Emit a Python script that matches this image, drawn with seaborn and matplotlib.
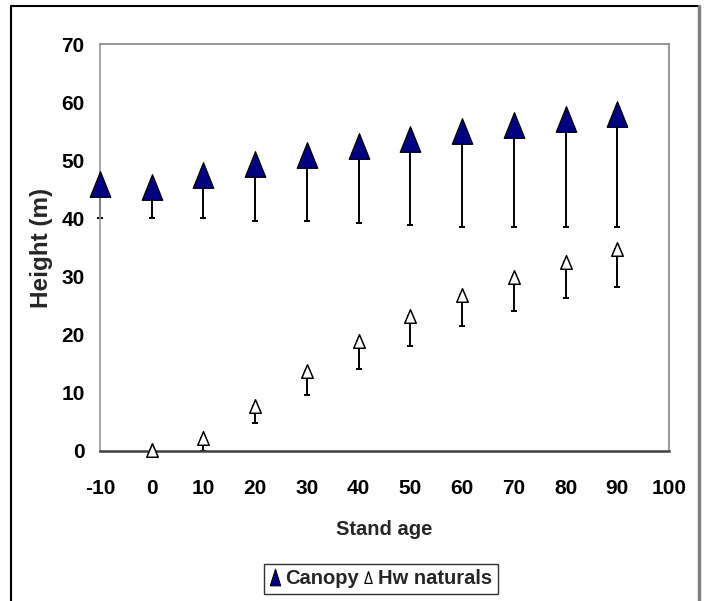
import numpy as np
import pandas as pd
import matplotlib
matplotlib.use("Agg")
import matplotlib.pyplot as plt
from matplotlib.lines import Line2D
from matplotlib.path import Path
import seaborn as sns

# data
stand_age = [-10, 0, 10, 20, 30, 40, 50, 60, 70, 80, 90]
canopy = [45.9, 45.4, 47.5, 49.3, 50.9, 52.5, 53.7, 55.1, 56.0, 57.1, 58.0]
canopy_low = [40.0, 40.0, 40.0, 39.6, 39.6, 39.2, 38.9, 38.6, 38.6, 38.6, 38.6]
hw_age = [0, 10, 20, 30, 40, 50, 60, 70, 80, 90]
hw_naturals = [0.2, 2.2, 7.7, 13.8, 18.9, 23.3, 26.9, 29.9, 32.5, 34.8]
hw_low = [0.2, 0.0, 4.8, 9.6, 14.1, 18.1, 21.5, 24.1, 26.3, 28.2]
x_ticks = list(range(-10, 101, 10))
y_ticks = list(range(0, 71, 10))

df_c = pd.DataFrame({"age": stand_age, "height": canopy, "low": canopy_low})
df_h = pd.DataFrame({"age": hw_age, "height": hw_naturals, "low": hw_low})

sns.set_style("white")
plt.rcParams["font.family"] = ["Liberation Sans", "DejaVu Sans"]
plt.rcParams["axes.unicode_minus"] = False

# tall triangle markers like the excel ones
tri_big = Path([(-0.8, -1), (0.8, -1), (0, 1), (-0.8, -1)], closed=True)
tri_small = Path([(-0.85, -1), (0.85, -1), (0, 1), (-0.85, -1)], closed=True)
tri_leg = Path([(-0.62, -1), (0.62, -1), (0, 1), (-0.62, -1)], closed=True)

fig = plt.figure(figsize=(7.05, 6.01), dpi=100)
ax = fig.add_axes([100 / 705, 150 / 601, 569 / 705, 407 / 601])

# minus-only error bars
for d in (df_c, df_h):
    err = np.vstack([d["height"] - d["low"], np.zeros(len(d))])
    eb = ax.errorbar(d["age"], d["height"], yerr=err, fmt="none", ecolor="black",
                     elinewidth=1.4, capsize=2.2, capthick=1.4, zorder=2)
    for art in eb.lines[1] + eb.lines[2]:
        art.set_clip_on(False)

sns.scatterplot(data=df_c, x="age", y="height", marker=tri_big, s=340,
                color="#000080", edgecolor="black", linewidth=0.9,
                zorder=3, clip_on=False, ax=ax)
sns.scatterplot(data=df_h, x="age", y="height", marker=tri_small, s=95,
                color="white", edgecolor="black", linewidth=1.1,
                zorder=3, clip_on=False, ax=ax)

ax.set_xlim(-10, 100)
ax.set_ylim(0, 70)
ax.set_xticks(x_ticks)
ax.set_yticks(y_ticks)
ax.tick_params(axis="x", direction="out", length=6, width=1.5, color="#404040",
               labelsize=15, pad=14)
ax.tick_params(axis="y", length=0, labelsize=15, pad=11)
for lab in ax.get_xticklabels() + ax.get_yticklabels():
    lab.set_color("black")
    lab.set_fontweight("bold")

for side in ["top", "right", "left"]:
    ax.spines[side].set_color("#9a9a9a")
    ax.spines[side].set_linewidth(1.5)
ax.spines["left"].set_linewidth(1.2)
ax.spines["bottom"].set_color("#404040")
ax.spines["bottom"].set_linewidth(1.8)

ax.set_xlabel("Stand age", fontsize=14.5, fontweight="bold", labelpad=16)
ax.set_ylabel("Height (m)", fontsize=17.5, fontweight="bold", labelpad=6)

handles = [
    Line2D([], [], marker=tri_leg, linestyle="none", markersize=12,
           markerfacecolor="#000080", markeredgecolor="black", markeredgewidth=0.8),
    Line2D([], [], marker=tri_leg, linestyle="none", markersize=8.5,
           markerfacecolor="white", markeredgecolor="black", markeredgewidth=0.9),
]
leg = fig.legend(handles, ["Canopy", "Hw naturals"], loc="center",
                 bbox_to_anchor=(381 / 705, 1 - 579 / 601), ncol=2,
                 prop={"size": 14.5, "weight": "bold"},
                 frameon=True, fancybox=False, edgecolor="black",
                 handlelength=0.6, handletextpad=0.2, columnspacing=0.15,
                 borderpad=0.25)
leg.get_frame().set_linewidth(1.0)

# outer chart border
fig.add_artist(Line2D([11 / 705, 11 / 705], [0, 1 - 6 / 601], color="black", lw=1.5))
fig.add_artist(Line2D([11 / 705, 699 / 705], [1 - 6 / 601, 1 - 6 / 601], color="black", lw=1.5))
fig.add_artist(Line2D([699 / 705, 699 / 705], [0, 1 - 6 / 601], color="#808080", lw=2.5))

fig.savefig("out.png", dpi=100)
